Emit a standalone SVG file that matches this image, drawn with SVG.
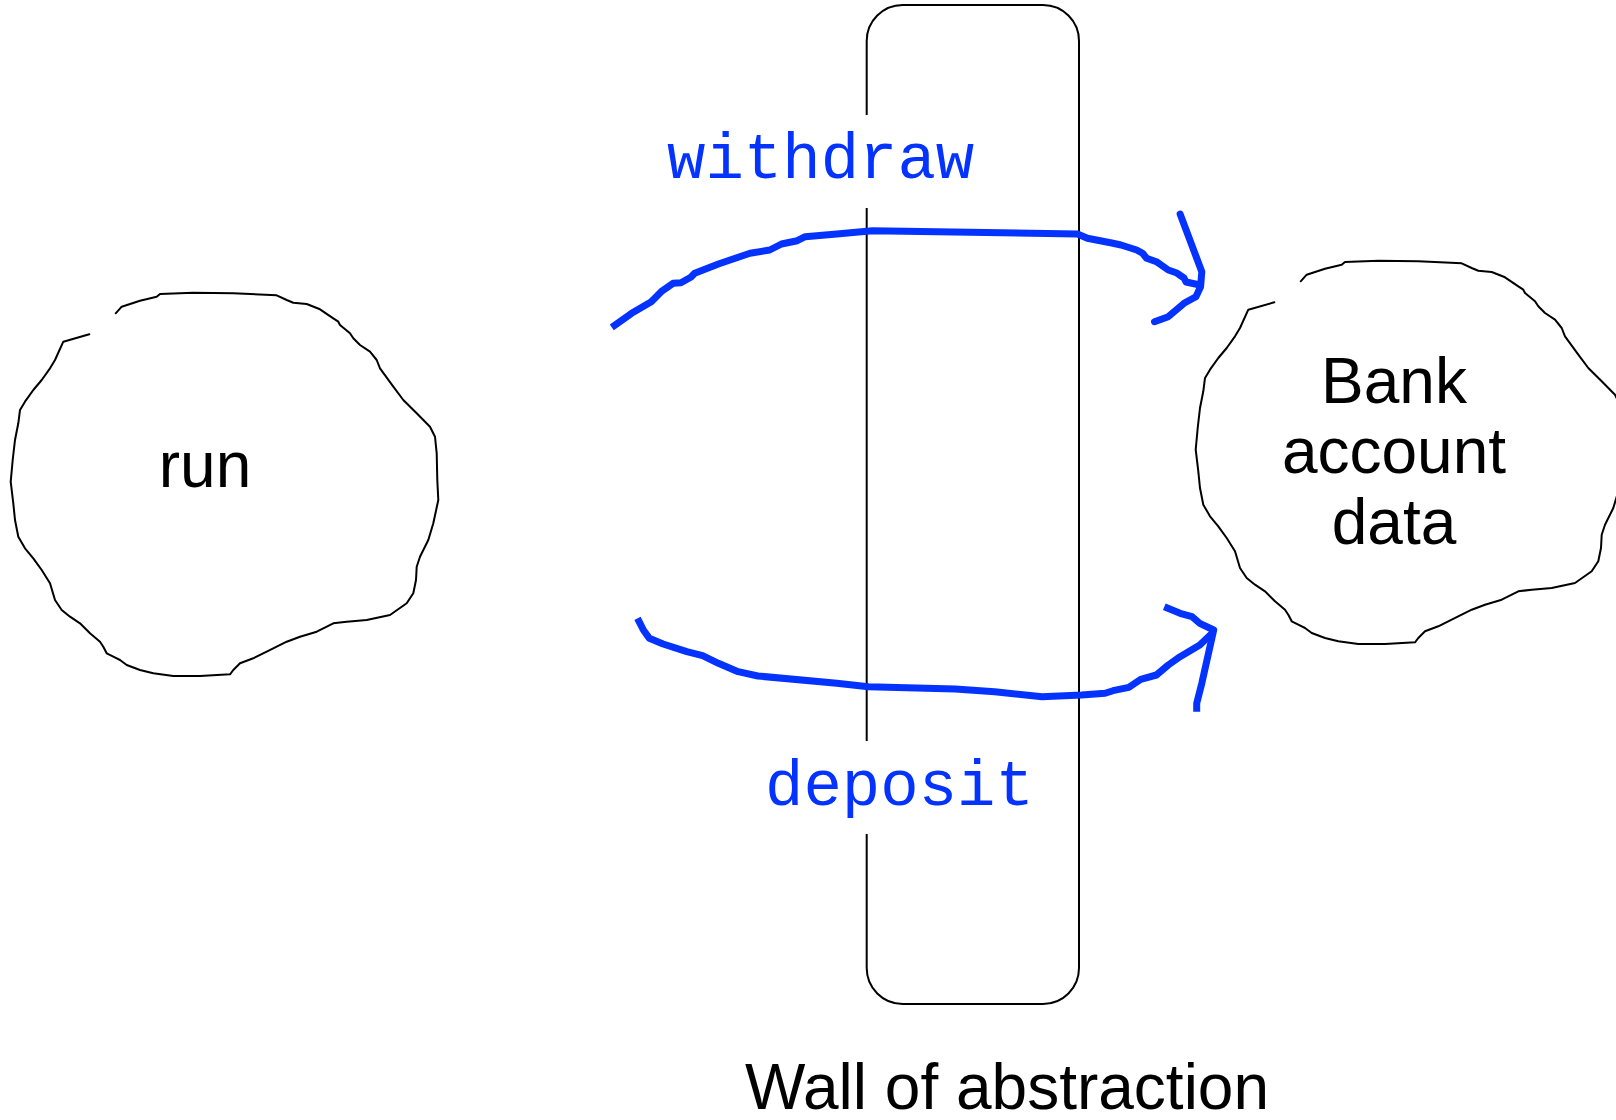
<svg xmlns="http://www.w3.org/2000/svg" width="1616" height="1120" viewBox="0 0 1616 1120">
<style>
.blob{fill:none;stroke:#000;stroke-width:2;stroke-linejoin:round;stroke-linecap:round}
.wall{fill:none;stroke:#000;stroke-width:2}
.arrow{fill:none;stroke:#0433ff;stroke-width:7;stroke-linejoin:round;stroke-linecap:butt}
.lbl{font-family:"Liberation Sans",Arial,sans-serif;font-size:64px;fill:#000;text-anchor:middle}
.code{font-family:"Liberation Mono","Courier New",monospace;font-size:64px;fill:#0433ff}
</style>
<defs>
<path id="blobShape" d="M115.7,313.3 L121.7,306.7 L140,300.7 L156.7,296.7 L160,294 L193.3,292.7 L233.3,293.3 L276.7,295.3 L286.7,300 L293.3,302.7 L306.7,304 L320,309.3 L333.3,318.3 L338.3,321.7 L340,325 L350,333.3 L353.3,338.3 L360,345 L370,351.7 L376.7,360 L380,368.3 L393.3,386.7 L403.3,400 L416.7,413.3 L430,426.7 L435,436.7 L436.7,453.3 L437.3,480 L438.3,500 L433.3,523.3 L428.3,540 L420,556.7 L416.7,566.7 L416,580 L413.3,593.3 L406.7,603.3 L390,615 L366.7,620 L346.7,621.7 L333.3,623.3 L323.3,628.3 L316.7,631.7 L300,636.7 L286.7,641.7 L266.7,651.7 L253.3,658.3 L240,663.3 L233.3,670 L230,674.3 L200,676 L173.3,676 L153.3,673.3 L140,670 L126.7,665 L120,660 L113.3,656.7 L106.7,653.3 L103.3,646.7 L100,641.7 L90,633.3 L80,623.3 L70,616.7 L61.7,610 L55,600 L50,583.3 L41.7,570 L33.3,558.3 L25,548.3 L18.3,536.7 L15,520 L13.3,503.3 L10.7,481.7 L12.7,460 L15,440 L18.3,423.3 L20,410 L25,401.7 L33.3,390 L41.7,380 L50,368.3 L55,360 L63.3,341.7 L89.3,334.3"/>
</defs>
<g id="wall">
<path class="wall" d="M866.7,115 L866.7,41 A36,36 0 0 1 902.7,5 L1043,5 A36,36 0 0 1 1079,41 L1079,968 A36,36 0 0 1 1043,1004 L902.7,1004 A36,36 0 0 1 866.7,968 L866.7,834"/>
<path class="wall" d="M866.7,741 L866.7,208"/>
<text class="lbl" x="1007" y="1109">Wall of abstraction</text>
</g>
<g id="run">
<use href="#blobShape" class="blob"/>
<text class="lbl" x="205" y="487">run</text>
</g>
<g id="bank">
<use href="#blobShape" class="blob" transform="translate(1185,-32)"/>
<text class="lbl" x="1394" y="403">Bank</text>
<text class="lbl" x="1394" y="473">account</text>
<text class="lbl" x="1394" y="544">data</text>
</g>
<g id="connectors">
<path class="arrow" d="M611.8,327.3 L631.6,313.3 L651.3,301.7 L661.2,291.7 L673,283.3 L680.9,282.7 L690.8,277.3 L694.7,273.3 L718.4,264 L750,253.3 L769.7,250 L781.5,244 L797.3,240.7 L805.2,236.7 L836.8,234 L872.3,230.7 L1077.5,234 L1087.4,238.3 L1113,243.3 L1121,245 L1136.7,250 L1142.6,253.3 L1146.6,258.3 L1156.4,261.7 L1168.3,270 L1176.2,272.7 L1184,278 L1186,282 L1200,285"/>
<path class="arrow" style="stroke-linecap:round" d="M1180.1,214 L1201.8,271.7 L1200.6,286.7 L1195.9,296.7 L1184,303.3 L1178.1,308.3 L1168.3,316.7 L1154.5,321.7"/>
<text class="code" x="667" y="178">withdraw</text>
<path class="arrow" d="M637.5,618.3 L643.4,630 L649.3,638.3 L663.1,644 L686.8,651.7 L702.6,655.7 L718.4,663.3 L738.1,671.7 L757.9,676 L836.8,683.3 L868.4,686.7 L955.2,689 L994.6,691.7 L1042,696.7 L1081.5,695 L1105.1,693.3 L1113,690.7 L1128.8,687.3 L1140.7,679.3 L1156.4,675 L1168.3,665 L1180.1,656.7 L1199.8,645 L1213.7,631.7"/>
<path class="arrow" d="M1164.3,606.7 L1180.1,613.3 L1192,616.7 L1199.8,623.3 L1213.7,630 L1201.8,683.3 L1196.7,703.3 L1196.7,711.7"/>
<text class="code" x="765" y="805">deposit</text>
</g>
</svg>
